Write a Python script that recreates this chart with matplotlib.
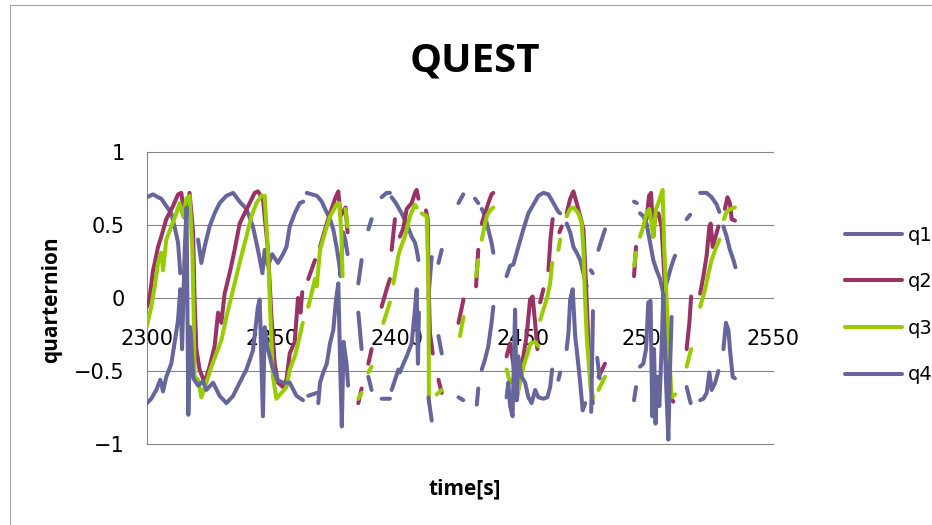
import numpy as np
import matplotlib
matplotlib.use("Agg")
import matplotlib.pyplot as plt
from matplotlib.lines import Line2D
from matplotlib.transforms import ScaledTranslation

nan = float("nan")
GAP = (nan, nan)

# ---------------- data (time [s], value) ----------------
q1_points = [
    (2300, 0.69), (2302.4, 0.71), (2304.4, 0.69), (2305.7, 0.68), (2307.7, 0.63), (2309.7, 0.58),
    (2311, 0.49), (2312.4, 0.38), (2313.3, 0.17), GAP,
    (2320.4, 0.4), (2321.7, 0.24), (2323, 0.35), (2325, 0.49), (2327, 0.58), (2329, 0.65),
    (2331.7, 0.7), (2334.4, 0.72), (2337, 0.66), (2339.7, 0.61), (2342.3, 0.49), (2344.3, 0.33),
    (2346.1, 0.17), (2347, 0.33), (2348.3, 0.22), (2350, 0.3), (2352.3, 0.24), (2354.3, 0.3),
    (2355.7, 0.35), (2357, 0.49), (2359, 0.58), (2361, 0.65), (2362.4, 0.66), GAP,
    (2363.8, 0.72), (2367.8, 0.7), GAP,
    (2368.4, 0.69), (2369.8, 0.66), (2371.1, 0.61), (2373.1, 0.54), (2374.4, 0.47), (2375.7, 0.35),
    (2376.7, 0.24), (2377.3, 0.15), (2377.8, 0.3), (2378.3, 0.45), (2379.2, 0.4), (2380.1, 0.3), GAP,
    (2384.4, 0.1), (2385.7, 0.26), GAP,
    (2388.4, 0.47), (2389.7, 0.54), GAP,
    (2393.7, 0.69), (2395.7, 0.72), (2397, 0.72), GAP,
    (2397.7, 0.69), (2399.4, 0.65), (2401.7, 0.58), (2403.7, 0.51), (2405.7, 0.42), (2407, 0.38),
    (2407.7, 0.33), (2408.4, 0.26), GAP,
    (2412.4, 0.01), (2413.7, 0.28), GAP,
    (2416.4, 0.24), (2417.7, 0.33), GAP,
    (2424.4, 0.65), (2426.3, 0.71), GAP,
    (2431, 0.68), (2432.3, 0.65), GAP,
    (2433.7, 0.61), (2435, 0.56), (2436.3, 0.47), (2437.6, 0.38), (2438.3, 0.31), GAP,
    (2443.6, 0.15), (2445, 0.22), (2446.3, 0.23), (2448.3, 0.35), (2450.3, 0.47), (2452.3, 0.58),
    (2454.3, 0.64), (2456.3, 0.7), (2458.3, 0.72), (2460.3, 0.71), (2462.3, 0.65), (2464.3, 0.59),
    (2465, 0.58), GAP,
    (2467.6, 0.51), (2469, 0.45), (2470.3, 0.35), (2471.6, 0.31), (2473, 0.26), (2474.3, 0.17),
    (2475.6, 0.08), GAP,
    (2477.2, 0.19), (2478, 0.17), GAP,
    (2480.3, 0.33), (2482.9, 0.47), GAP,
    (2494.5, 0.66), (2495.6, 0.65), GAP,
    (2496.9, 0.58), (2498.2, 0.56), (2499.5, 0.51), (2500.9, 0.38), (2502.2, 0.26), (2503.5, 0.19),
    (2504.9, 0.13), (2506.2, 0.03), (2507.5, 0.1), (2508.9, 0.19), (2510.2, 0.26), (2510.9, 0.29), GAP,
    (2515.5, 0.54), (2516.9, 0.57), GAP,
    (2520.9, 0.72), (2523.5, 0.72), (2525.5, 0.69), (2527.5, 0.64), (2528.6, 0.59), GAP,
    (2530.2, 0.49), (2531.5, 0.42), (2532.8, 0.33), (2534.2, 0.26), (2535, 0.21),
]

q2_points = [
    (2300, -0.06), (2301.1, 0.01), (2302.4, 0.19), (2303.1, 0.24), (2304.4, 0.35), (2305.7, 0.42),
    (2307.7, 0.54), (2310.4, 0.63), (2312.4, 0.71), (2313.7, 0.72), (2315, 0.55), (2317, 0.72),
    (2318.4, 0.45), (2319, -0.01), (2319.7, -0.35), (2321, -0.49), (2323, -0.58), (2325, -0.47),
    (2327, -0.33), (2328.4, -0.1), (2329.7, -0.17), (2331, 0.03), (2333, 0.17), (2335, 0.33),
    (2337, 0.51), (2339, 0.58), (2341, 0.65), (2343, 0.72), (2344.3, 0.73), (2346.3, 0.68),
    (2348.3, 0.33), (2349.7, -0.13), (2351, -0.45), (2352.3, -0.58), (2354.3, -0.61), (2355.7, -0.56),
    (2357, -0.38), (2359, -0.3), (2360.3, 0.0), (2361.3, -0.1), (2362, 0.04), GAP,
    (2364.4, 0.13), (2367.1, 0.26), GAP,
    (2369.1, 0.35), (2371.1, 0.47), (2373.1, 0.58), (2375.1, 0.68), (2376.4, 0.73), (2377.3, 0.56),
    (2379.3, 0.62), (2380.1, 0.45), GAP,
    (2384.4, -0.72), (2385.7, -0.62), GAP,
    (2388.4, -0.45), (2389.7, -0.35), GAP,
    (2393.7, -0.06), (2395.7, 0.06), (2397, 0.13), GAP,
    (2397.7, 0.33), (2399, 0.54), GAP,
    (2401, 0.42), (2402.4, 0.48), (2403.7, 0.61), (2405.7, 0.65), (2407, 0.72), (2407.7, 0.74),
    (2408.4, 0.68), GAP,
    (2411.4, 0.6), (2412.1, 0.54), (2412.6, 0.0), (2413, -0.24), (2414.1, -0.38), GAP,
    (2416.4, -0.56), (2417.7, -0.65), GAP,
    (2424.4, -0.17), (2426.4, -0.01), GAP,
    (2431.4, 0.08), (2432.3, 0.33), GAP,
    (2433.7, 0.51), (2435, 0.58), (2436.3, 0.65), (2437.6, 0.71), (2438.3, 0.72), GAP,
    (2443.6, -0.4), (2445, -0.31), (2446.3, -0.45), (2447.6, -0.7), (2449, -0.54), (2450.3, -0.4),
    (2451.6, -0.26), (2453, -0.01), (2454, 0.01), (2455, -0.17), (2455.9, -0.35), GAP,
    (2457, -0.03), (2458.3, 0.06), GAP,
    (2460.3, 0.19), (2461.2, 0.42), (2462, 0.54), GAP,
    (2464.7, 0.45), (2465.6, 0.49), GAP,
    (2467.6, 0.58), (2469, 0.68), (2470.3, 0.73), (2471.6, 0.65), (2473, 0.56), (2474.3, 0.47),
    (2475.3, 0.1), (2476.3, -0.31), (2477.2, -0.58), (2478, -0.72), GAP,
    (2480.3, -0.54), (2482.9, -0.45), GAP,
    (2494.5, 0.15), (2495.3, 0.35), GAP,
    (2499.5, 0.54), (2500.5, 0.7), (2501.3, 0.72), (2502.2, 0.42), (2502.9, 0.56), (2504.2, 0.58),
    (2505.5, 0.49), (2506.9, 0.06), (2508.2, -0.35), (2508.9, -0.68), (2510.2, -0.71), GAP,
    (2515.5, -0.35), (2516.6, -0.17), (2517.3, 0.01), GAP,
    (2520.9, 0.03), (2522.2, 0.15), (2523.5, 0.29), (2524.6, 0.49), (2525.1, 0.51), (2525.9, 0.35),
    (2527.2, 0.43), (2528.2, 0.49), GAP,
    (2530.8, 0.61), (2531.8, 0.69), (2532.8, 0.65), (2533.5, 0.54), (2534.8, 0.53),
]

q3_points = [
    (2300, -0.19), (2301.7, -0.06), (2303.1, 0.08), (2304.4, 0.24), (2305.7, 0.31), (2306.4, 0.19),
    (2307.7, 0.4), (2309.7, 0.49), (2311.7, 0.58), (2313, 0.65), (2314.4, 0.56), (2315.7, 0.68),
    (2317, 0.7), (2318.1, 0.33), (2318.6, -0.08), (2319, -0.54), (2320.4, -0.56), (2321.7, -0.68),
    (2323.7, -0.58), (2325.7, -0.47), (2327.7, -0.38), (2329.7, -0.29), (2331.7, -0.13), (2333.7, 0.01),
    (2335.7, 0.15), (2337.7, 0.29), (2339.7, 0.42), (2341.7, 0.56), (2343.7, 0.65), (2345.7, 0.7),
    (2347, 0.7), (2348.3, 0.33), (2349.3, -0.13), (2350.3, -0.54), (2351.7, -0.69), (2353.7, -0.65),
    (2355.7, -0.61), (2357, -0.49), (2359, -0.4), (2360.5, -0.3), (2362.2, -0.17), GAP,
    (2364.4, -0.06), (2367.1, 0.13), GAP,
    (2367.8, 0.08), (2369.1, 0.33), (2371.1, 0.45), (2373.1, 0.56), (2374.4, 0.6), (2375.7, 0.64),
    (2376.8, 0.65), (2377.6, 0.45), (2378.1, 0.15), GAP,
    (2379.3, 0.61), (2380.1, 0.49), GAP,
    (2384.4, -0.69), (2385.7, -0.65), GAP,
    (2388.4, -0.51), (2389.7, -0.47), GAP,
    (2394.4, -0.17), (2397, -0.03), GAP,
    (2398.4, 0.1), (2400.4, 0.29), (2401, 0.33), (2403, 0.42), (2405, 0.56), (2407, 0.64),
    (2407.7, 0.62), GAP,
    (2409.7, 0.58), (2411.7, 0.56), (2412.4, 0.1), (2412.6, -0.72), GAP,
    (2415.7, -0.66), (2417.7, -0.63), GAP,
    (2425, -0.26), (2426.4, -0.13), GAP,
    (2431.4, 0.15), (2432.3, 0.26), GAP,
    (2433.7, 0.4), (2435, 0.51), (2435.7, 0.56), (2437, 0.6), (2438.3, 0.62), GAP,
    (2443.6, -0.49), (2445, -0.58), (2446.3, -0.56), (2447.6, -0.68), (2449, -0.58), (2450.3, -0.47),
    (2451.6, -0.4), (2453.2, -0.31), (2455, -0.3), (2456.3, -0.33), GAP,
    (2457, -0.15), (2458.3, -0.08), (2459.9, 0.01), (2461, 0.1), (2461.8, 0.24), GAP,
    (2464.3, 0.33), (2465, 0.4), GAP,
    (2467.6, 0.56), (2469, 0.61), (2470.3, 0.62), (2472.3, 0.58), (2473.6, 0.51), (2474.3, 0.33),
    (2474.9, 0.01), (2475.6, -0.26), (2476.5, -0.47), (2477.2, -0.63), (2478.3, -0.68), GAP,
    (2480.3, -0.63), (2482.9, -0.54), GAP,
    (2494.5, 0.22), (2495.3, 0.31), GAP,
    (2496.9, 0.42), (2498.2, 0.49), (2499.5, 0.58), (2500.6, 0.61), (2501.5, 0.51), (2502.2, 0.42),
    (2503.3, 0.61), (2504.2, 0.65), (2505.1, 0.7), (2505.9, 0.74), (2506.6, 0.33), (2507.5, -0.01),
    (2508.2, -0.31), (2508.9, -0.49), (2509.5, -0.68), (2510.9, -0.66), GAP,
    (2515.5, -0.47), (2517.3, -0.35), GAP,
    (2520.9, -0.06), (2522.9, 0.06), (2524.2, 0.17), (2525.5, 0.26), (2526.9, 0.33), (2528.6, 0.4), GAP,
    (2530.4, 0.54), (2531.5, 0.59), (2533.1, 0.61), (2534.8, 0.62),
]

q4_points = [
    (2300, -0.72), (2301.7, -0.69), (2303.7, -0.63), (2305.3, -0.56), (2306.4, -0.64), (2307.7, -0.54),
    (2309.7, -0.45), (2311, -0.31), (2312.4, -0.15), (2313.3, 0.06), (2314, -0.35), (2315, 0.3),
    (2315.8, 0.62), (2316.5, -0.8), (2317.3, -0.2), (2318.5, -0.55), (2320.4, -0.6), (2322.3, -0.57),
    (2323.7, -0.63), (2326.4, -0.58), (2329, -0.67), (2331.7, -0.72), (2334.4, -0.67), (2337, -0.58),
    (2339.7, -0.49), (2342.3, -0.36), (2344.3, -0.06), (2345, -0.01), (2345.7, -0.45), (2346.3, -0.81),
    (2347, -0.2), (2348.3, -0.35), (2350, -0.47), (2352, -0.56), (2354.3, -0.58), (2357, -0.58),
    (2359.7, -0.67), (2362.3, -0.7), GAP,
    (2364.4, -0.67), (2367.8, -0.65), GAP,
    (2368.4, -0.72), (2369.1, -0.58), (2370.4, -0.51), (2371.8, -0.45), (2373.1, -0.31), (2374.4, -0.22),
    (2375.5, -0.01), (2376.4, 0.1), (2377.2, -0.5), (2377.8, -0.88), (2378.5, -0.3), (2379.7, -0.45),
    (2380.3, -0.6), GAP,
    (2384.4, -0.1), (2385.7, -0.35), GAP,
    (2388.4, -0.54), (2389.7, -0.63), GAP,
    (2393.7, -0.69), (2397, -0.69), GAP,
    (2397.7, -0.63), (2400.4, -0.49), GAP,
    (2401, -0.51), (2402.4, -0.45), (2403.7, -0.4), (2405.7, -0.31), (2407, -0.08), (2407.7, 0.06),
    (2408.2, -0.45), (2408.6, -0.1), GAP,
    (2412.4, -0.68), (2413.7, -0.84), GAP,
    (2416.4, -0.26), (2417.7, -0.38), GAP,
    (2424.4, -0.68), (2426.3, -0.7), GAP,
    (2431.7, -0.73), (2432.3, -0.62), GAP,
    (2433.7, -0.49), (2435, -0.42), (2436.3, -0.33), (2437.6, -0.17), (2438.3, -0.06), GAP,
    (2443.6, -0.68), (2444.3, -0.58), (2445, -0.74), (2446, -0.81), (2447, -0.08), (2447.6, -0.7),
    (2448.3, -0.4), (2449.6, -0.54), (2451, -0.58), (2452.3, -0.68), (2453.6, -0.72), (2455, -0.63),
    (2456.3, -0.68), (2458.3, -0.69), (2459.9, -0.68), (2461, -0.61), (2461.8, -0.49), GAP,
    (2464.3, -0.56), (2465, -0.51), GAP,
    (2467.6, -0.35), (2468.3, -0.24), (2469, -0.01), (2470, 0.06), (2471, -0.26), (2471.9, -0.4),
    (2473, -0.58), (2474, -0.77), (2475, -0.72), GAP,
    (2477.4, -0.78), (2478.1, -0.09), GAP,
    (2479.8, -0.41), (2480.8, -0.55), GAP,
    (2494.5, -0.7), (2495.3, -0.61), GAP,
    (2496.9, -0.47), (2498.2, -0.45), (2499.3, -0.35), (2500.2, -0.03), (2501.1, -0.02), (2501.8, -0.81),
    (2502.5, -0.35), (2503.1, -0.86), (2503.8, -0.54), (2504.6, -0.74), (2505.5, -0.35), (2506.2, 0.03),
    (2507.3, -0.58), (2508.2, -0.97), (2508.9, -0.47), (2509.5, -0.13), GAP,
    (2515.5, -0.61), (2517.1, -0.72), GAP,
    (2520.9, -0.7), (2522.2, -0.69), (2523.5, -0.65), (2524.6, -0.51), (2525.5, -0.63), (2526.9, -0.58),
    (2528.2, -0.5), GAP,
    (2530.2, -0.35), (2531.2, -0.17), (2532.2, -0.22), (2532.8, -0.35), (2533.9, -0.54), (2534.8, -0.55),
]

series_names = ["q1", "q2", "q3", "q4"]
x_ticks = [2300, 2350, 2400, 2450, 2500, 2550]
y_ticks = [-1, -0.5, 0, 0.5, 1]
y_tick_labels = ["\u22121", "\u22120.5", "0", "0.5", "1"]
title_text = "QUEST"
x_label = "time[s]"
y_label = "quarternion"

# ---------------- styling ----------------
colors = {"q1": "#66669c", "q2": "#993366", "q3": "#99cc00", "q4": "#66669c"}
LW = 2.9
GRID = "#868686"

W, H = 932, 525
fig = plt.figure(figsize=(W / 100, H / 100), dpi=100)
fig.patch.set_facecolor("white")

# chart-area border (left and top edges visible)
fig.add_artist(Line2D([10 / W, 10 / W], [0, 1 - 5 / H], color="#a6a6a6", lw=0.8))
fig.add_artist(Line2D([10 / W, 1], [1 - 5 / H, 1 - 5 / H], color="#a6a6a6", lw=0.8))

ax = fig.add_axes([147 / W, 81 / H, 626 / W, 292 / H])
ax.set_xlim(x_ticks[0], x_ticks[-1])
ax.set_ylim(-1, 1)

for s in ["top", "right", "bottom"]:
    ax.spines[s].set_visible(False)
ax.spines["left"].set_color(GRID)
ax.spines["left"].set_linewidth(0.8)
ax.spines["left"].set_zorder(0.6)

ax.set_yticks(y_ticks)
ax.set_yticklabels(y_tick_labels, fontsize=15, family="DejaVu Sans")
ax.tick_params(axis="y", length=0, pad=16)
ax.set_xticks([])
for yt in y_ticks:
    ax.axhline(yt, color=GRID, lw=0.8, zorder=0.5, clip_on=False)

# category axis labels sit below the zero line, under the data lines
off = ScaledTranslation(0, -47 / 100, fig.dpi_scale_trans)
for xt in x_ticks:
    ax.text(xt, 0, f"{xt}", transform=ax.transData + off, ha="center", va="baseline",
            fontsize=15, family="DejaVu Sans", zorder=1, clip_on=False)

all_points = {"q1": q1_points, "q2": q2_points, "q3": q3_points, "q4": q4_points}
handles = []
for name in series_names:
    arr = np.array(all_points[name], dtype=float)
    ln, = ax.plot(arr[:, 0], arr[:, 1], color=colors[name], lw=LW, zorder=2,
                  solid_capstyle="round", solid_joinstyle="round", label=name)
    handles.append(ln)

leg = fig.legend(handles=handles, labels=series_names, loc="center left",
                 bbox_to_anchor=(845 / W, 1 - 305 / H), frameon=False,
                 prop={"family": "DejaVu Sans", "size": 14}, handlelength=2.95,
                 handletextpad=0.3, labelspacing=1.42, borderpad=0, borderaxespad=0)

fig.text(475 / W, 1 - 61 / H, title_text, ha="center", va="center",
         fontsize=29, fontweight="bold", family="Open Sans")
fig.text(465 / W, 1 - 489 / H, x_label, ha="center", va="center",
         fontsize=15, fontweight="bold", family="Open Sans")
fig.text(52 / W, 1 - 300 / H, y_label, ha="center", va="center", rotation=90,
         fontsize=15, fontweight="bold", family="Open Sans")

fig.savefig("out.png", dpi=100, facecolor="white")
